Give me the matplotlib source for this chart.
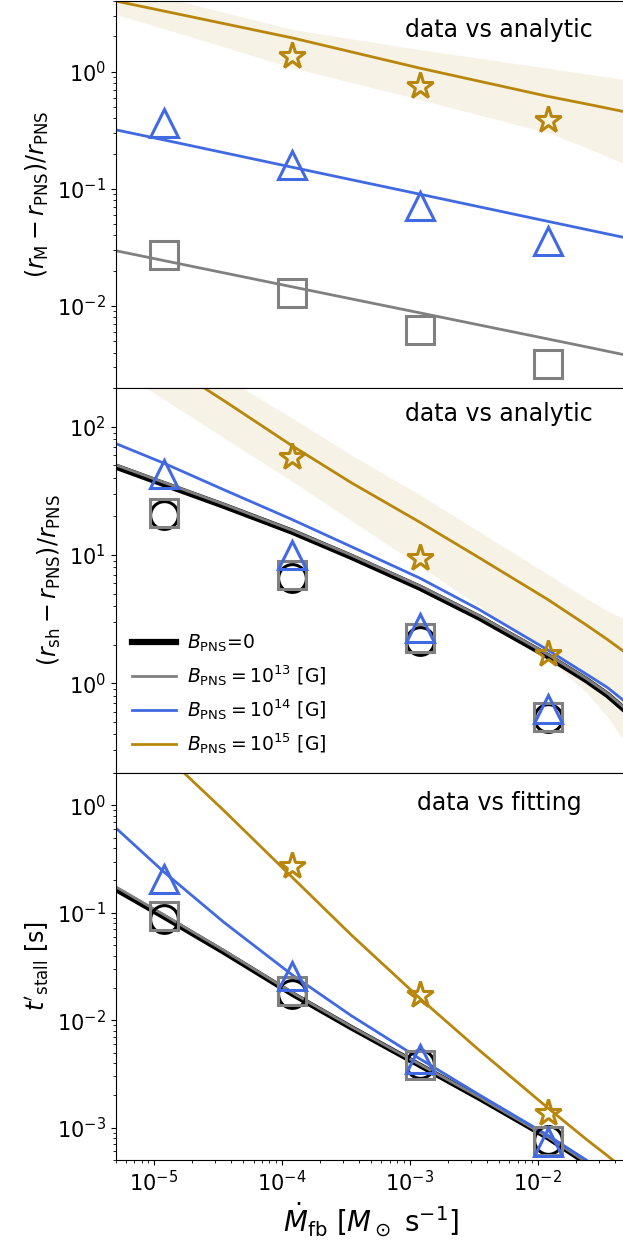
import numpy as np
import matplotlib
matplotlib.use('Agg')
import matplotlib.pyplot as plt

# accretion rates of the runs and of the model curves
mdot_data = [1.2e-5, 1.2e-4, 1.2e-3, 1.2e-2]
mdot_top = [5e-6, 1.2e-5, 1.2e-4, 1.2e-3, 1.2e-2, 2.4e-2, 5e-2]
mdot_line = [5e-6, 1.2e-5, 3.5e-5, 1.2e-4, 3.5e-4, 1.2e-3, 3.5e-3,
			 1.2e-2, 2.4e-2, 3.5e-2, 5e-2]

# top panel: (r_M - r_PNS)/r_PNS
rm_b13 = [0.0275, 0.0128, 0.0063, 0.0032]
rm_b14 = [0.364, 0.159, 0.072, 0.0357]
rm_b15 = [np.nan, 1.35, 0.76, 0.39]
rm_fit_b13 = [0.0297, 0.0244, 0.0146, 0.00875, 0.00524, 0.00449, 0.0038]
rm_fit_b14 = [0.319, 0.261, 0.153, 0.090, 0.0528, 0.045, 0.038]
rm_fit_b15 = [4.0, 3.28, 1.94, 1.07, 0.615, 0.53, 0.45]
rm_band_lo = [3.07, 2.32, 1.08, 0.576, 0.301, 0.224, 0.16]
rm_band_hi = [5.5, 4.3, 2.29, 1.54, 1.07, 0.955, 0.85]

# middle panel: (r_sh - r_PNS)/r_PNS
rsh_b0 = [20.6, 6.6, 2.13, 0.54]
rsh_b13 = [21.2, 7.0, 2.27, 0.55]
rsh_b14 = [42.4, 10.0, 2.69, 0.625]
rsh_b15 = [np.nan, 58.5, 9.4, 1.7]
rsh_fit_b0 = [48.9, 35.6, 24.2, 15.2, 9.66, 5.56, 3.25, 1.63, 1.06, 0.815, 0.60]
rsh_fit_b13 = [50.4, 36.7, 24.9, 15.6, 9.95, 5.73, 3.35, 1.68, 1.09, 0.84, 0.62]
rsh_fit_b14 = [74.0, 51.8, 32.3, 18.9, 11.6, 6.6, 3.75, 1.82, 1.18, 0.93, 0.70]
rsh_fit_b15 = [551.0, 318.0, 160.0, 71.0, 36.5, 18.0, 9.5, 4.5, 2.85, 2.2, 1.7]
rsh_band_lo = [288.0, 163.0, 82.0, 37.6, 18.5, 8.2, 4.0, 1.55, 0.85, 0.55, 0.33]
rsh_band_hi = [800.0, 470.0, 245.0, 117.0, 60.0, 29.5, 15.2, 7.1, 4.6, 3.68, 3.1]

# bottom panel: t'_stall
tst_b0 = [0.0874, 0.0176, 3.94e-3, 7.6e-4]
tst_b13 = [0.094, 0.0189, 3.8e-3, 7.5e-4]
tst_b14 = [0.207, 0.026, 4.35e-3, 7.4e-4]
tst_b15 = [np.nan, 0.273, 0.017, 1.37e-3]
tst_fit_b0 = [0.166, 0.0915, 0.0432, 0.0176, 8.5e-3, 3.8e-3, 1.88e-3,
			  8.1e-4, 4.7e-4, 3.3e-4, 2.6e-4]
tst_fit_b13 = [0.175, 0.0955, 0.0448, 0.0181, 8.7e-3, 3.88e-3, 1.92e-3,
			   8.2e-4, 4.8e-4, 3.35e-4, 2.65e-4]
tst_fit_b14 = [0.62, 0.239, 0.082, 0.0265, 0.011, 4.37e-3, 2.02e-3,
			   8.5e-4, 5.0e-4, 3.5e-4, 2.9e-4]
tst_fit_b15 = [7.9, 3.0, 0.90, 0.215, 0.062, 0.016, 5.25e-3,
			   1.53e-3, 7.8e-4, 5.5e-4, 3.9e-4]

labels = [r'$B_{\rm PNS}$=0',
		  r'$B_{\rm PNS}=10^{13}$ [G]',
		  r'$B_{\rm PNS}=10^{14}$ [G]',
		  r'$B_{\rm PNS}=10^{15}$ [G]']

c_b0 = 'black'
c_b13 = 'gray'
c_b14 = 'royalblue'
c_b15 = 'darkgoldenrod'

ms = 20
mew = 2.2

fig = plt.figure(figsize=(6.23, 12.47), dpi=100)
left = 115.5 / 623
width = (627 - 115.5) / 623
ax1 = fig.add_axes([left, 859 / 1247, width, 387 / 1247])
ax2 = fig.add_axes([left, 474 / 1247, width, 385 / 1247], sharex=ax1)
ax3 = fig.add_axes([left, 87 / 1247, width, 387 / 1247], sharex=ax1)


def markers(ax, y0, y13, y14, y15):
	if y0 is not None:
		ax.plot(mdot_data, y0, 'o', ms=ms, mfc='none', mec=c_b0, mew=mew)
	ax.plot(mdot_data, y13, 's', ms=ms, mfc='none', mec=c_b13, mew=mew)
	ax.plot(mdot_data, y14, '^', ms=ms, mfc='none', mec=c_b14, mew=mew)
	ax.plot(mdot_data, y15, '*', ms=ms, mfc='none', mec=c_b15, mew=mew)


# top
ax1.fill_between(mdot_top, rm_band_lo, rm_band_hi, color=c_b15, alpha=0.1, lw=0)
ax1.plot(mdot_top, rm_fit_b13, color=c_b13, lw=2)
ax1.plot(mdot_top, rm_fit_b14, color=c_b14, lw=2)
ax1.plot(mdot_top, rm_fit_b15, color=c_b15, lw=2)
markers(ax1, None, rm_b13, rm_b14, rm_b15)
ax1.set_ylim(2e-3, 4)
ax1.set_ylabel(r'$(r_{\rm M}-r_{\rm PNS})/r_{\rm PNS}$', fontsize=17)
ax1.text(0.75, 0.925, 'data vs analytic', transform=ax1.transAxes,
		 ha='center', va='center', fontsize=17)

# middle
ax2.fill_between(mdot_line, rsh_band_lo, rsh_band_hi, color=c_b15, alpha=0.1, lw=0)
ax2.plot(mdot_line, rsh_fit_b0, color=c_b0, lw=4.5, label=labels[0])
ax2.plot(mdot_line, rsh_fit_b13, color=c_b13, lw=2, label=labels[1])
ax2.plot(mdot_line, rsh_fit_b14, color=c_b14, lw=2, label=labels[2])
ax2.plot(mdot_line, rsh_fit_b15, color=c_b15, lw=2, label=labels[3])
markers(ax2, rsh_b0, rsh_b13, rsh_b14, rsh_b15)
ax2.set_ylim(0.2, 200)
ax2.set_ylabel(r'$(r_{\rm sh}-r_{\rm PNS})/r_{\rm PNS}$', fontsize=17)
ax2.text(0.75, 0.932, 'data vs analytic', transform=ax2.transAxes,
		 ha='center', va='center', fontsize=17)
ax2.legend(loc='lower left', frameon=False, fontsize=13.5, handlelength=2.3,
		   handletextpad=0.6)

# bottom
ax3.plot(mdot_line, tst_fit_b0, color=c_b0, lw=4)
ax3.plot(mdot_line, tst_fit_b13, color=c_b13, lw=2)
ax3.plot(mdot_line, tst_fit_b14, color=c_b14, lw=2)
ax3.plot(mdot_line, tst_fit_b15, color=c_b15, lw=2)
markers(ax3, tst_b0, tst_b13, tst_b14, tst_b15)
ax3.set_ylim(5e-4, 2)
ax3.set_ylabel(r"$t'_{\rm stall}$ [s]", fontsize=17)
ax3.set_xlabel(r'$\dot{M}_{\rm fb}$ [$M_\odot$ s$^{-1}$]', fontsize=20)
ax3.text(0.75, 0.922, 'data vs fitting', transform=ax3.transAxes,
		 ha='center', va='center', fontsize=17)

for ax in (ax1, ax2, ax3):
	ax.set_xscale('log')
	ax.set_yscale('log')
	ax.tick_params(labelsize=15)
ax1.set_xlim(5e-6, 5e-2)
plt.setp(ax1.get_xticklabels(), visible=False)
plt.setp(ax2.get_xticklabels(), visible=False)
fig.align_ylabels([ax1, ax2, ax3])

fig.savefig('out.png', dpi=100)
